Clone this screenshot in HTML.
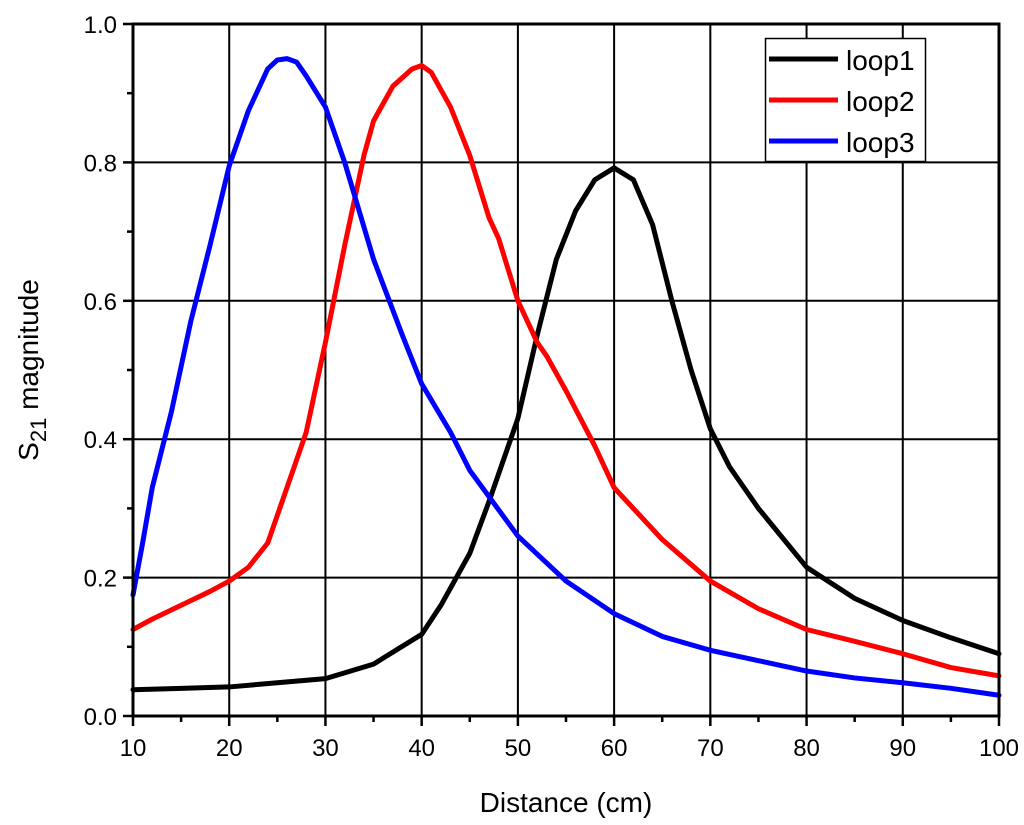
<!DOCTYPE html>
<html><head><meta charset="utf-8"><style>
html,body{margin:0;padding:0;background:#fff;}
svg{display:block;font-family:"Liberation Sans",Arial,sans-serif;}
</style></head><body>
<svg id="chart" width="1024" height="825">
<g id="grid"></g>
<g id="series"></g>
<g id="axes"></g>
<text x="566" y="812" font-size="28" text-anchor="middle">Distance (cm)</text>
<text transform="translate(38,370) rotate(-90)" font-size="28" text-anchor="middle">S<tspan font-size="22" dy="8">21</tspan><tspan dy="-8"> magnitude</tspan></text>
<g>
<rect x="765.5" y="38.5" width="160" height="123" fill="#fff" stroke="#000" stroke-width="1.5"/>
<g><line x1="769" y1="59" x2="838" y2="59" stroke="#000" stroke-width="5"/><text x="846" y="70" font-size="28">loop1</text></g>
<g><line x1="769" y1="100" x2="838" y2="100" stroke="#f00" stroke-width="5"/><text x="846" y="111" font-size="28">loop2</text></g>
<g><line x1="769" y1="141" x2="838" y2="141" stroke="#00f" stroke-width="5"/><text x="846" y="152" font-size="28">loop3</text></g>
</g>
</svg>
<script>
const xTicks=[10,20,30,40,50,60,70,80,90,100];
const yTicks=[0,0.2,0.4,0.6,0.8,1.0];
const yTickLabels=["0.0","0.2","0.4","0.6","0.8","1.0"];
const loop1X=[10,15,20,25,30,35,40,42,45,47,50,52,54,56,58,60,62,64,66,68,70,72,75,80,85,90,95,100];
const loop1Y=[0.038,0.040,0.042,0.048,0.054,0.075,0.118,0.16,0.235,0.31,0.43,0.55,0.66,0.73,0.775,0.792,0.775,0.71,0.6,0.5,0.415,0.36,0.3,0.215,0.17,0.138,0.113,0.09];
const loop2X=[10,12,15,18,20,22,24,26,28,30,32,34,35,37,39,40,41,43,45,47,48,50,52,53,55,58,60,62,65,70,75,80,85,90,95,100];
const loop2Y=[0.125,0.14,0.16,0.18,0.195,0.215,0.25,0.33,0.41,0.54,0.68,0.81,0.86,0.91,0.935,0.94,0.93,0.88,0.81,0.72,0.69,0.6,0.54,0.52,0.47,0.39,0.33,0.3,0.255,0.195,0.155,0.125,0.108,0.09,0.07,0.058];
const loop3X=[10,11,12,14,16,18,20,22,24,25,26,27,28,30,32,35,38,40,43,45,50,55,60,65,70,75,80,85,90,95,100];
const loop3Y=[0.175,0.25,0.33,0.44,0.57,0.68,0.795,0.875,0.935,0.948,0.95,0.945,0.925,0.88,0.8,0.66,0.55,0.48,0.41,0.355,0.26,0.195,0.148,0.115,0.095,0.08,0.065,0.055,0.048,0.04,0.03];
const L=133,R=999,T=24,B=716;
const sx=v=>L+(v-10)/90*(R-L);
const sy=v=>B-v*(B-T);
const NS="http://www.w3.org/2000/svg";
function mk(tag,attrs,parent){const e=document.createElementNS(NS,tag);for(const k in attrs)e.setAttribute(k,attrs[k]);parent.appendChild(e);return e;}
const grid=document.getElementById('grid'),axes=document.getElementById('axes'),series=document.getElementById('series');
xTicks.forEach(v=>{
 const g=mk('line',{x1:sx(v),x2:sx(v),y1:T,y2:B,stroke:'#000','stroke-width':2},grid);
 
 
 const t=mk('line',{x1:sx(v),x2:sx(v),y1:B,y2:B+10,stroke:'#000','stroke-width':2.5},axes);
 
 
 const lb=mk('text',{x:sx(v),y:B+40,'font-size':24,'text-anchor':'middle'},axes);
 lb.textContent=v;
 
 
 if(v<100){const m=mk('line',{x1:sx(v+5),x2:sx(v+5),y1:B,y2:B+6,stroke:'#000','stroke-width':2.5},axes);
 
 }
});
yTicks.forEach((v,i)=>{
 const g=mk('line',{x1:L,x2:R,y1:sy(v),y2:sy(v),stroke:'#000','stroke-width':2},grid);
 
 
 const t=mk('line',{x1:L-10,x2:L,y1:sy(v),y2:sy(v),stroke:'#000','stroke-width':2.5},axes);
 
 
 const lb=mk('text',{x:L-16,y:sy(v)+9,'font-size':24,'text-anchor':'end'},axes);
 lb.textContent=yTickLabels[i];
 
 
 if(v<1){const m=mk('line',{x1:L-6,x2:L,y1:sy(v+0.1),y2:sy(v+0.1),stroke:'#000','stroke-width':2.5},axes);
 
 }
});
const frame=mk('rect',{x:L,y:T,width:R-L,height:B-T,fill:'none',stroke:'#000','stroke-width':3},axes);


[[loop1X,loop1Y,'#000','loop1'],[loop2X,loop2Y,'#f00','loop2'],[loop3X,loop3Y,'#00f','loop3']].forEach(([xs,ys,c,n])=>{
 const p=mk('polyline',{points:xs.map((x,i)=>sx(x)+','+sy(ys[i])).join(' '),fill:'none',stroke:c,'stroke-width':5,'stroke-linejoin':'round','stroke-linecap':'round'},series);
 
 
});
</script>
</body></html>
